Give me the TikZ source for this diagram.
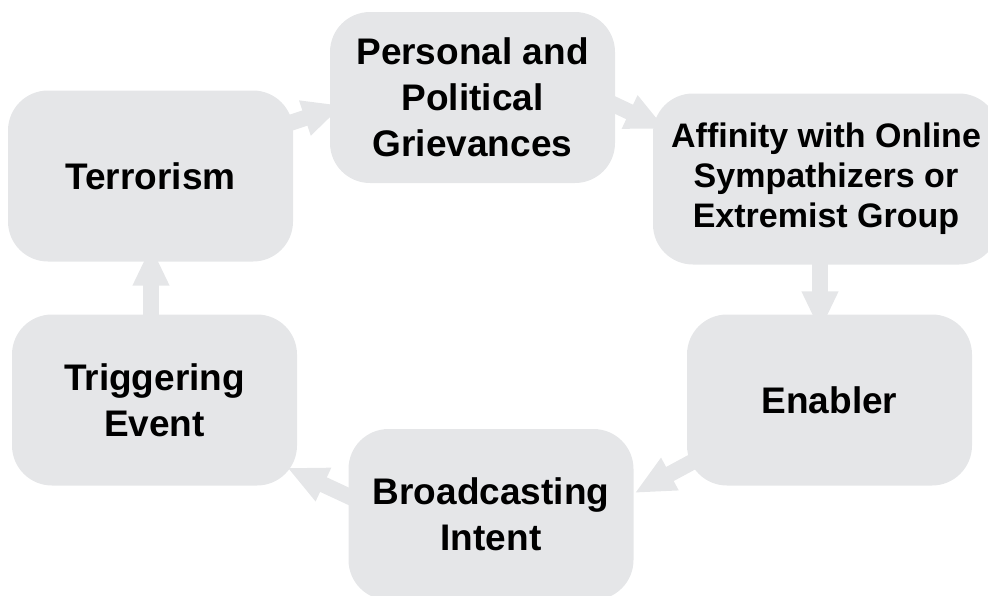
\documentclass[tikz,border=0pt]{standalone}
\usepackage{fontspec}
\setmainfont{Liberation Sans}
\usetikzlibrary{arrows.meta,calc,backgrounds}
\definecolor{boxgray}{HTML}{E5E6E8}
\tikzset{
  cycbox/.style={fill=boxgray, draw=none, rounded corners=40pt, minimum width=285pt, minimum height=171pt, inner sep=0pt, align=center, font=\bfseries\fontsize{37}{46}\selectfont},
  cycarrow/.style={draw=boxgray, line width=16pt, -{Triangle[width=34pt,length=40pt]}}
}
\begin{document}
\begin{tikzpicture}[x=1pt,y=-1pt]
\useasboundingbox (0,0) rectangle (988,595);
\clip (0,0) rectangle (988,595);
\node[cycbox] (ter) at (150.5,176) {Terrorism};
\node[cycbox] (per) at (472.5,97.5) {Personal and\\Political\\Grievances};
\node[cycbox, minimum width=346pt, font=\bfseries\fontsize{34}{40}\selectfont] (aff) at (826,179) {Affinity with Online\\Sympathizers or\\Extremist Group};
\node[cycbox] (ena) at (829.5,400) {Enabler};
\node[cycbox] (bro) at (491,514.5) {Broadcasting\\Intent};
\node[cycbox] (tri) at (154.5,400) {Triggering\\Event};
\begin{pgfonlayer}{background}
\draw[cycarrow] ($(ter.center)+(97.5,-39)$) -- ($(per.west)+(13,7.9)$);
\draw[cycarrow] ($(per.east)+(-21.5,-2.5)$) -- ($(aff.west)+(13,-50)$);
\draw[cycarrow] ($(aff.south)+(-6,-25)$) -- ($(ena.north)+(-9.5,17)$);
\draw[cycarrow] ($(ena.south west)+(17,-30)$) -- ($(bro.east)+(1,-21.5)$);
\draw[cycarrow] ($(bro.west)+(19,-9.5)$) -- ($(tri.south east)+(-10,-18)$);
\draw[cycarrow] ($(tri.north)+(-3.5,25)$) -- ($(ter.south)+(0.5,-16)$);
\end{pgfonlayer}
\end{tikzpicture}
\end{document}
